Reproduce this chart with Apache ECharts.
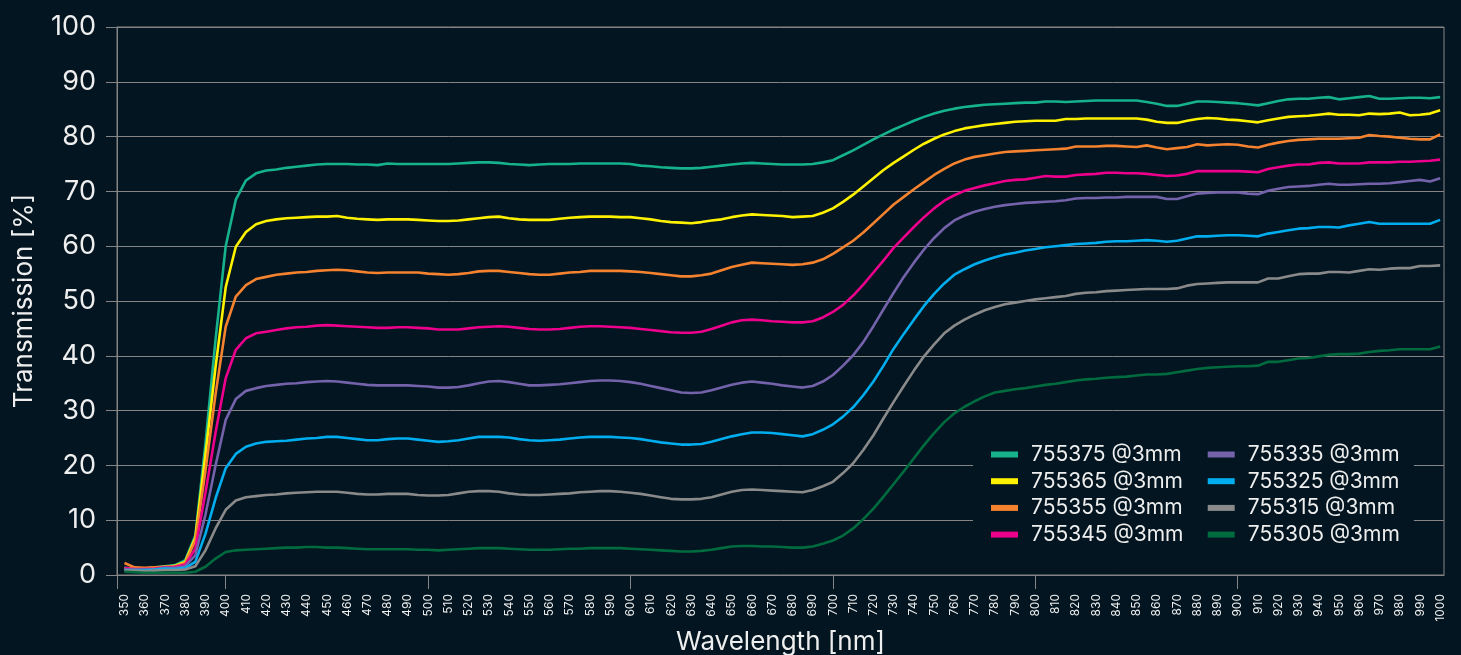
<!DOCTYPE html>
<html>
<head>
<meta charset="utf-8">
<script src="https://cdn.jsdelivr.net/npm/echarts@6/dist/echarts.min.js"></script>
<style>
html,body{margin:0;padding:0;background:#021520;}
#chart{width:1461px;height:655px;}
</style>
</head>
<body>
<div id="chart"></div>
<script>
const wavelengths = [350,355,360,365,370,375,380,385,390,395,400,405,410,415,420,425,430,435,440,445,450,455,460,465,470,475,480,485,490,495,500,505,510,515,520,525,530,535,540,545,550,555,560,565,570,575,580,585,590,595,600,605,610,615,620,625,630,635,640,645,650,655,660,665,670,675,680,685,690,695,700,705,710,715,720,725,730,735,740,745,750,755,760,765,770,775,780,785,790,795,800,805,810,815,820,825,830,835,840,845,850,855,860,865,870,875,880,885,890,895,900,905,910,915,920,925,930,935,940,945,950,955,960,965,970,975,980,985,990,995,1000];

const xTickLabels = [350,360,370,380,390,400,410,420,430,440,450,460,470,480,490,500,510,520,530,540,550,560,570,580,590,600,610,620,630,640,650,660,670,680,690,700,710,720,730,740,750,760,770,780,790,800,810,820,830,840,850,860,870,880,890,900,910,920,930,940,950,960,970,980,990,1000];
const xMajorTicks = [346.3,400,500,600,700,800,900];

const seriesNames = ['755375 @3mm','755365 @3mm','755355 @3mm','755345 @3mm','755335 @3mm','755325 @3mm','755315 @3mm','755305 @3mm'];
const seriesColors = ['#16b28c','#fff200','#f5822f','#ec008c','#7462ab','#00aeef','#8a8a8a','#006b3f'];

const s755375 = [1.3,1.2,1.2,1.4,1.6,1.8,2.7,7.2,24,43,60,68.5,72,73.3,73.8,74.0,74.3,74.5,74.7,74.9,75.0,75.0,75.0,74.9,74.9,74.8,75.1,75.0,75.0,75.0,75.0,75.0,75.0,75.1,75.2,75.3,75.3,75.2,75.0,74.9,74.8,74.9,75.0,75.0,75.0,75.1,75.1,75.1,75.1,75.1,75.0,74.7,74.6,74.4,74.3,74.2,74.2,74.3,74.5,74.7,74.9,75.1,75.2,75.1,75.0,74.9,74.9,74.9,75.0,75.3,75.7,76.6,77.5,78.5,79.5,80.4,81.3,82.1,82.9,83.6,84.2,84.7,85.1,85.4,85.6,85.8,85.9,86.0,86.1,86.2,86.2,86.4,86.4,86.3,86.4,86.5,86.6,86.6,86.6,86.6,86.6,86.3,86.0,85.6,85.6,86.0,86.4,86.4,86.3,86.2,86.1,85.9,85.7,86.1,86.5,86.8,86.9,86.9,87.1,87.2,86.8,87.0,87.2,87.4,86.9,86.9,87.0,87.1,87.1,87.0,87.2];
const s755365 = [1.2,1.2,1.2,1.3,1.5,1.7,2.4,6.8,22,38,52.5,59.9,62.6,64.0,64.6,64.9,65.1,65.2,65.3,65.4,65.4,65.5,65.2,65.0,64.9,64.8,64.9,64.9,64.9,64.8,64.7,64.6,64.6,64.7,64.9,65.1,65.3,65.4,65.1,64.9,64.8,64.8,64.8,65.0,65.2,65.3,65.4,65.4,65.4,65.3,65.3,65.1,64.9,64.6,64.4,64.3,64.2,64.4,64.7,64.9,65.3,65.6,65.8,65.7,65.6,65.5,65.3,65.4,65.5,66.1,66.9,68.1,69.4,70.9,72.4,73.9,75.2,76.4,77.6,78.7,79.6,80.4,81.0,81.5,81.8,82.1,82.3,82.5,82.7,82.8,82.9,82.9,82.9,83.2,83.2,83.3,83.3,83.3,83.3,83.3,83.3,83.1,82.7,82.5,82.5,82.9,83.2,83.4,83.3,83.1,83.0,82.8,82.6,83.0,83.3,83.6,83.7,83.8,84.0,84.2,84.0,84.0,83.9,84.2,84.1,84.2,84.4,83.9,84.0,84.2,84.8];
const s755355 = [2.2,1.4,1.3,1.4,1.5,1.6,2.2,6.3,19,33,45.3,50.8,52.9,54.0,54.4,54.8,55.0,55.2,55.3,55.5,55.6,55.7,55.6,55.4,55.2,55.1,55.2,55.2,55.2,55.2,55.0,54.9,54.8,54.9,55.1,55.4,55.5,55.5,55.3,55.1,54.9,54.8,54.8,55.0,55.2,55.3,55.5,55.5,55.5,55.5,55.4,55.3,55.1,54.9,54.7,54.5,54.5,54.7,55.0,55.6,56.2,56.6,57.0,56.9,56.8,56.7,56.6,56.7,57.0,57.6,58.6,59.8,61.0,62.5,64.2,65.9,67.6,69.0,70.4,71.7,73.0,74.1,75.1,75.8,76.3,76.6,76.9,77.2,77.3,77.4,77.5,77.6,77.7,77.8,78.2,78.2,78.2,78.3,78.3,78.2,78.1,78.4,78.0,77.7,77.9,78.1,78.6,78.4,78.5,78.6,78.5,78.2,78.0,78.5,78.9,79.2,79.4,79.5,79.6,79.6,79.6,79.7,79.8,80.3,80.1,80.0,79.8,79.6,79.5,79.5,80.4];
const s755345 = [1.3,1.1,1.1,1.2,1.4,1.5,1.9,4.8,15,26,35.9,41.1,43.2,44.1,44.4,44.7,45.0,45.2,45.3,45.5,45.6,45.5,45.4,45.3,45.2,45.1,45.1,45.2,45.2,45.1,45.0,44.8,44.8,44.8,45.0,45.2,45.3,45.4,45.3,45.1,44.9,44.8,44.8,44.9,45.1,45.3,45.4,45.4,45.3,45.2,45.1,44.9,44.7,44.5,44.3,44.2,44.2,44.4,44.9,45.5,46.1,46.5,46.6,46.5,46.3,46.2,46.1,46.1,46.3,47.0,48.0,49.3,51.0,53.0,55.2,57.4,59.7,61.6,63.5,65.3,66.9,68.3,69.3,70.1,70.6,71.1,71.5,71.9,72.1,72.2,72.5,72.8,72.7,72.7,73.0,73.1,73.2,73.4,73.4,73.3,73.3,73.2,73.0,72.8,72.9,73.2,73.7,73.7,73.7,73.7,73.7,73.6,73.5,74.1,74.4,74.7,74.9,74.9,75.2,75.3,75.1,75.1,75.1,75.3,75.3,75.3,75.4,75.4,75.5,75.6,75.8];
const s755335 = [1.0,1.0,1.0,1.1,1.3,1.3,1.6,3.6,11,20,28.3,32.1,33.6,34.1,34.5,34.7,34.9,35.0,35.2,35.3,35.4,35.3,35.1,34.9,34.7,34.6,34.6,34.6,34.6,34.5,34.4,34.2,34.2,34.3,34.6,35.0,35.3,35.4,35.2,34.9,34.6,34.6,34.7,34.8,35.0,35.2,35.4,35.5,35.5,35.4,35.2,34.9,34.5,34.1,33.7,33.3,33.2,33.3,33.7,34.2,34.7,35.1,35.3,35.1,34.9,34.6,34.4,34.2,34.5,35.3,36.5,38.2,40.1,42.5,45.4,48.5,51.5,54.4,57.0,59.4,61.5,63.3,64.7,65.6,66.3,66.8,67.2,67.5,67.7,67.9,68.0,68.1,68.2,68.4,68.7,68.8,68.8,68.9,68.9,69.0,69.0,69.0,69.0,68.6,68.6,69.1,69.6,69.7,69.8,69.8,69.8,69.6,69.5,70.1,70.5,70.8,70.9,71.0,71.2,71.4,71.2,71.2,71.3,71.4,71.4,71.5,71.7,71.9,72.1,71.8,72.4];
const s755325 = [0.9,0.9,0.9,1.0,1.2,1.1,1.3,2.4,7.5,14,19.5,22.1,23.4,24.0,24.3,24.4,24.5,24.7,24.9,25.0,25.2,25.2,25.0,24.8,24.6,24.6,24.8,24.9,24.9,24.7,24.5,24.3,24.4,24.6,24.9,25.2,25.2,25.2,25.1,24.8,24.6,24.5,24.6,24.7,24.9,25.1,25.2,25.2,25.2,25.1,25.0,24.8,24.5,24.2,24.0,23.8,23.8,23.9,24.3,24.8,25.3,25.7,26.0,26.0,25.9,25.7,25.5,25.3,25.7,26.5,27.5,28.9,30.6,32.8,35.3,38.2,41.3,44.0,46.6,49.1,51.3,53.2,54.8,55.8,56.7,57.4,58.0,58.5,58.8,59.2,59.5,59.8,60.0,60.2,60.4,60.5,60.6,60.8,60.9,60.9,61.0,61.1,61.0,60.8,61.0,61.4,61.8,61.8,61.9,62.0,62.0,61.9,61.8,62.3,62.6,62.9,63.2,63.3,63.5,63.5,63.4,63.8,64.1,64.4,64.1,64.1,64.1,64.1,64.1,64.1,64.8];
const s755315 = [0.8,0.8,0.7,0.8,0.9,0.9,1.0,1.6,4.5,8.5,11.9,13.6,14.2,14.4,14.6,14.7,14.9,15.0,15.1,15.2,15.2,15.2,15.0,14.8,14.7,14.7,14.8,14.8,14.8,14.6,14.5,14.5,14.6,14.9,15.2,15.3,15.3,15.2,14.9,14.7,14.6,14.6,14.7,14.8,14.9,15.1,15.2,15.3,15.3,15.2,15.0,14.8,14.5,14.2,13.9,13.8,13.8,13.9,14.2,14.7,15.2,15.5,15.6,15.5,15.4,15.3,15.2,15.1,15.5,16.2,17.0,18.6,20.4,22.8,25.5,28.6,31.6,34.5,37.3,39.9,42.1,44.1,45.5,46.6,47.5,48.3,48.9,49.4,49.7,50.0,50.3,50.5,50.7,50.9,51.3,51.5,51.6,51.8,51.9,52.0,52.1,52.2,52.2,52.2,52.3,52.8,53.1,53.2,53.3,53.4,53.4,53.4,53.4,54.1,54.1,54.5,54.9,55.0,55.0,55.3,55.3,55.2,55.5,55.8,55.7,55.9,56.0,56.0,56.4,56.4,56.5];
const s755305 = [0.6,0.5,0.4,0.4,0.4,0.4,0.4,0.6,1.5,3.0,4.2,4.5,4.6,4.7,4.8,4.9,5.0,5.0,5.1,5.1,5.0,5.0,4.9,4.8,4.7,4.7,4.7,4.7,4.7,4.6,4.6,4.5,4.6,4.7,4.8,4.9,4.9,4.9,4.8,4.7,4.6,4.6,4.6,4.7,4.8,4.8,4.9,4.9,4.9,4.9,4.8,4.7,4.6,4.5,4.4,4.3,4.3,4.4,4.6,4.9,5.2,5.3,5.3,5.2,5.2,5.1,5.0,5.0,5.2,5.7,6.3,7.2,8.5,10.2,12.1,14.3,16.6,18.9,21.3,23.7,25.9,27.9,29.5,30.7,31.7,32.6,33.3,33.6,33.9,34.1,34.4,34.7,34.9,35.2,35.5,35.7,35.8,36.0,36.1,36.2,36.4,36.6,36.6,36.7,37.0,37.3,37.6,37.8,37.9,38.0,38.1,38.1,38.2,38.9,38.9,39.2,39.5,39.6,39.9,40.2,40.3,40.3,40.4,40.7,40.9,41.0,41.2,41.2,41.2,41.2,41.7];

const seriesValues = [s755375,s755365,s755355,s755345,s755335,s755325,s755315,s755305];

const FONT = 'Inter, "Noto Sans", sans-serif';
const TXT = '#eeeeee';
const GRIDC = '#858585';
const BG = '#021520';

const chart = echarts.init(document.getElementById('chart'), null, {renderer:'canvas'});

const series = seriesNames.map((name, i) => ({
  name: name,
  type: 'line',
  data: wavelengths.map((w, j) => [w, seriesValues[i][j]]),
  showSymbol: false,
  symbol: 'none',
  smooth: false,
  lineStyle: {width: 2.6, color: seriesColors[i]},
  itemStyle: {color: seriesColors[i]},
  emphasis: {disabled: true},
  animation: false
}));

const legendCommon = {
  orient: 'vertical',
  icon: 'rect',
  itemWidth: 27,
  itemHeight: 6,
  itemGap: 5.7,
  backgroundColor: BG,
  textStyle: {color: TXT, fontSize: 21, fontFamily: FONT, lineHeight: 20, padding: [0,0,0,8]},
  z: 10
};

chart.setOption({
  backgroundColor: BG,
  animation: false,
  grid: {left: 117, right: 17, top: 27, bottom: 80, outerBoundsMode: 'none', containLabel: false,
    show: true, borderColor: GRIDC, borderWidth: 1, backgroundColor: 'transparent'},
  legend: [
    Object.assign({}, legendCommon, {data: seriesNames.slice(0,4), left: 973, top: 427, padding: [17,24,17,18]}),
    Object.assign({}, legendCommon, {data: seriesNames.slice(4,8), left: 1194.7, top: 427, padding: [17,14,17,13]})
  ],
  xAxis: {
    type: 'value',
    min: 346.3,
    max: 1001.9,
    name: 'Wavelength [nm]',
    nameLocation: 'middle',
    nameGap: 52,
    nameTextStyle: {color: TXT, fontSize: 26, fontFamily: FONT},
    axisLine: {show: true, lineStyle: {color: GRIDC, width: 1}},
    axisTick: {show: true, length: 14, lineStyle: {color: GRIDC, width: 1}, customValues: xMajorTicks},
    axisLabel: {customValues: xTickLabels, rotate: 90, color: TXT, fontSize: 12, fontFamily: FONT, margin: 19,
      formatter: function (v) { return String(v); }},
    splitLine: {show: false}
  },
  yAxis: {
    type: 'value',
    min: 0,
    max: 100,
    interval: 10,
    name: 'Transmission [%]',
    nameLocation: 'middle',
    nameGap: 80,
    nameRotate: 90,
    nameTextStyle: {color: TXT, fontSize: 26, fontFamily: FONT},
    axisLine: {show: true, lineStyle: {color: GRIDC, width: 1}},
    axisTick: {show: true, length: 11, lineStyle: {color: GRIDC, width: 1}},
    axisLabel: {color: TXT, fontSize: 27, fontFamily: FONT, margin: 21},
    splitLine: {show: true, lineStyle: {color: GRIDC, width: 1}}
  },
  series: series
});
</script>
</body>
</html>
